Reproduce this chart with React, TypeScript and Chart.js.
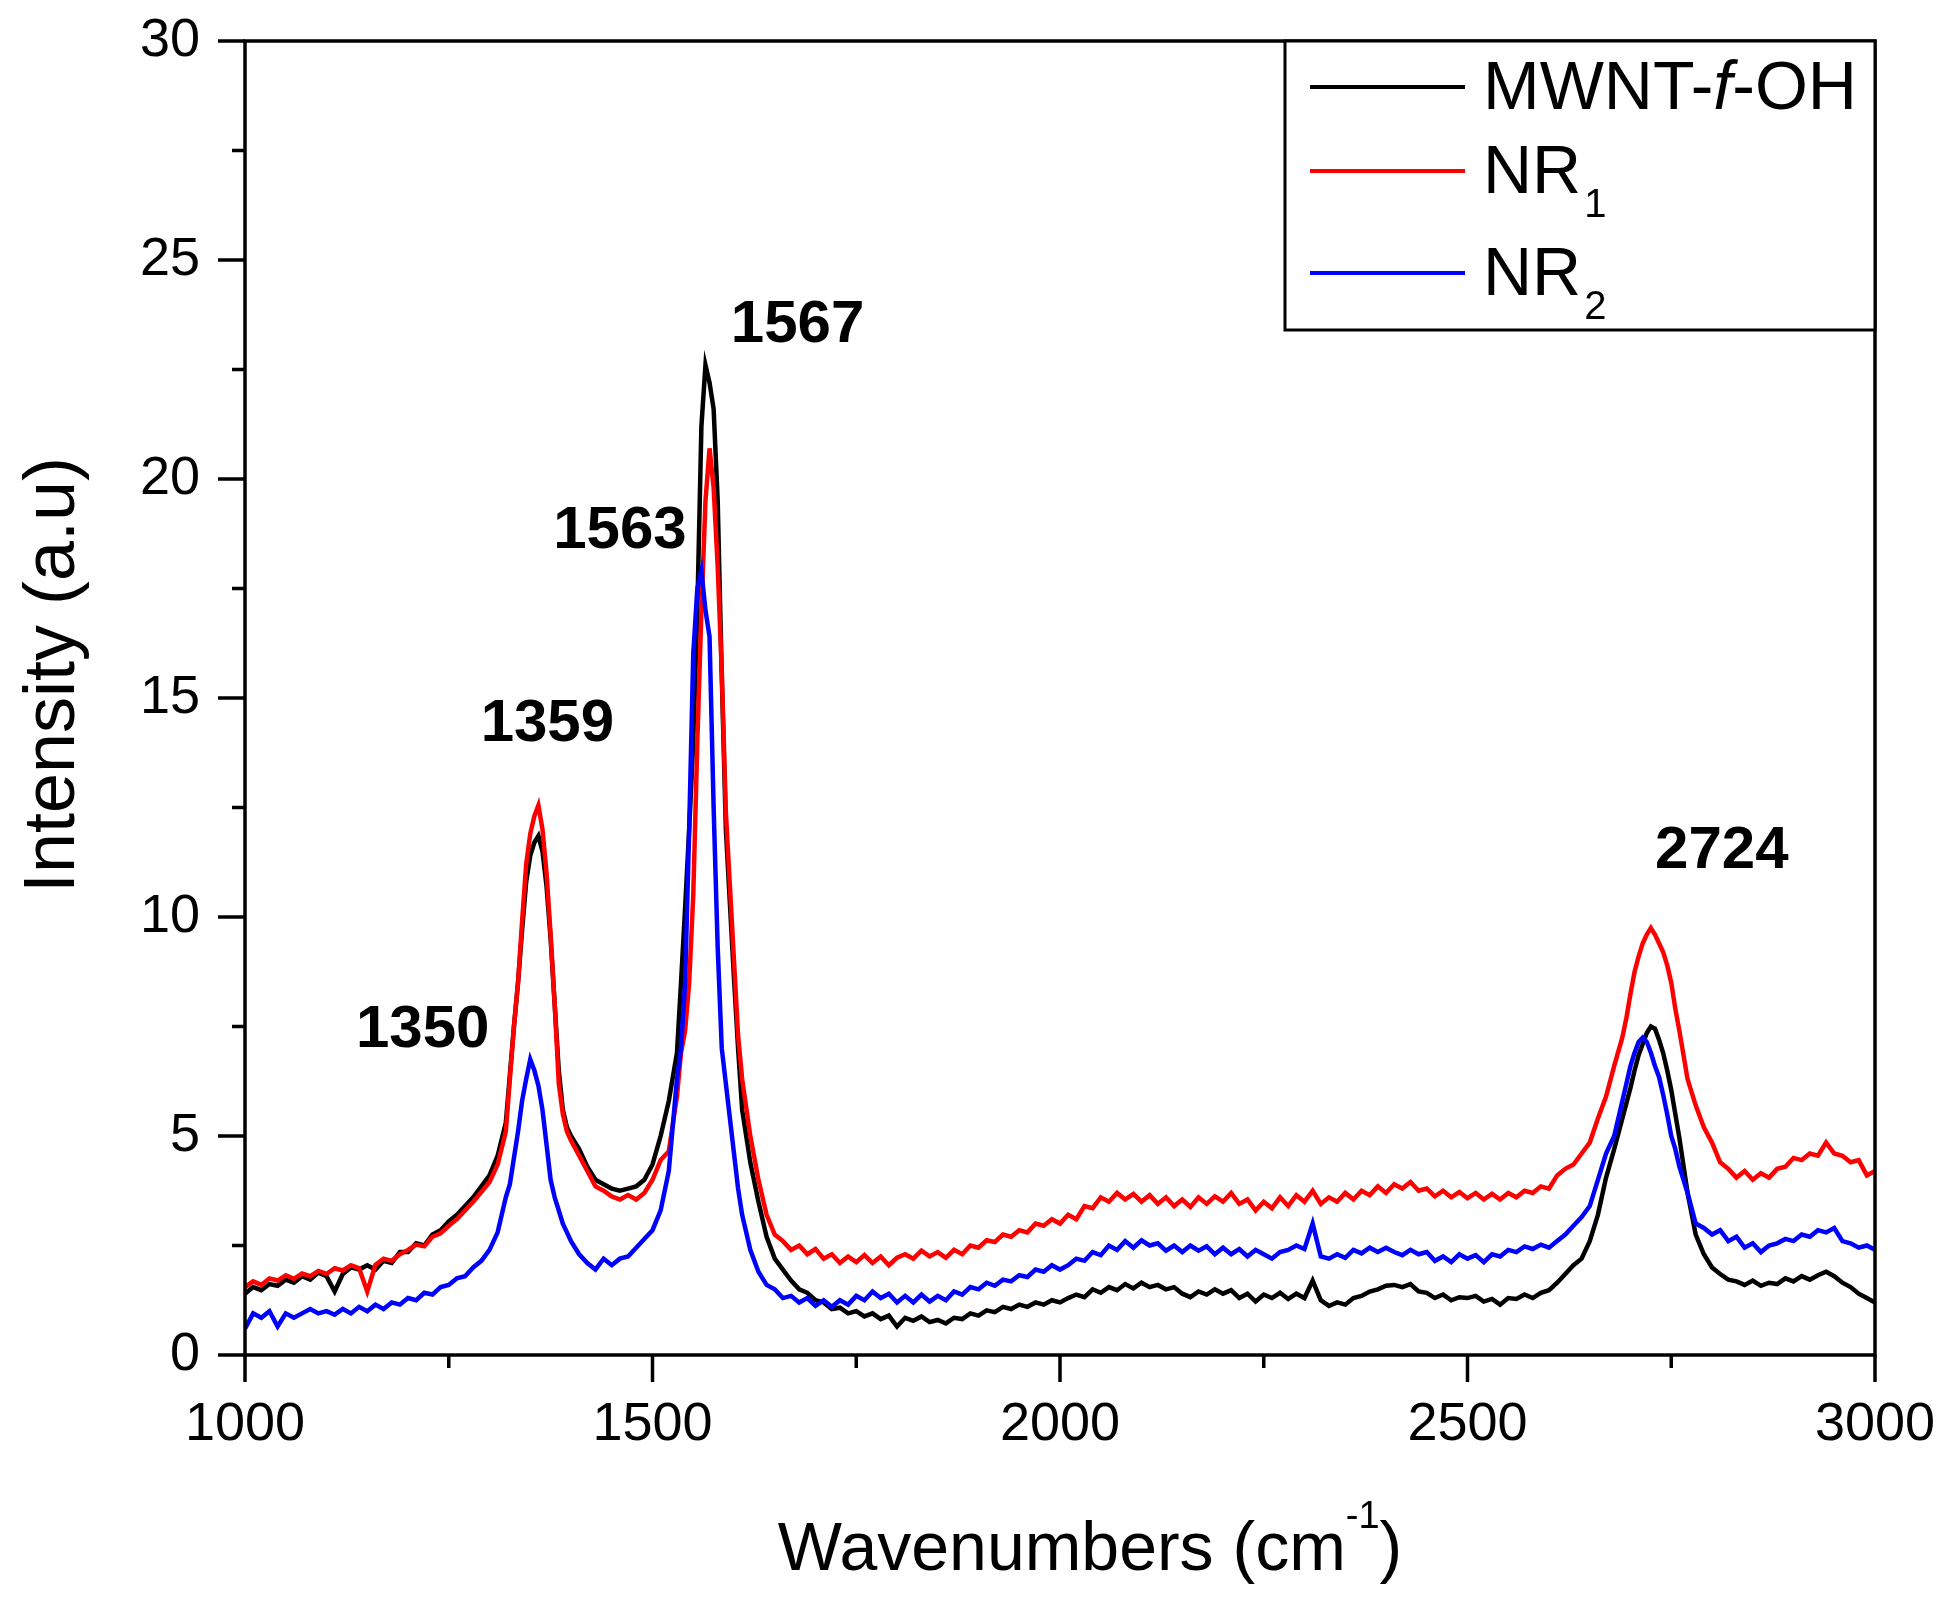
import { useEffect, useRef } from 'react';
import { Chart, registerables } from 'chart.js';

Chart.register(...registerables);

const FONT = '"Liberation Sans", Arial, sans-serif';

// Raman shift grid (cm-1), finer around the peaks
const wavenumbers = [
  1000, 1010, 1020, 1030, 1040, 1050, 1060, 1070, 1080, 1090, 1100, 1110, 1120, 1130, 1140, 1150, 1160,
  1170, 1180, 1190, 1200, 1210, 1220, 1230, 1240, 1250, 1260, 1270, 1280, 1290, 1300, 1310, 1320,
  1325, 1330, 1335, 1340, 1345, 1350, 1355, 1360, 1365, 1370, 1375, 1380, 1385, 1390, 1395, 1400,
  1410, 1420, 1430, 1440, 1450, 1460, 1470, 1480, 1490, 1500, 1510, 1520, 1530,
  1535, 1540, 1545, 1550, 1555, 1560, 1565, 1570, 1575, 1580, 1585, 1590, 1595, 1600, 1605, 1610,
  1620, 1630, 1640, 1650, 1660, 1670, 1680, 1690, 1700, 1710, 1720, 1730, 1740, 1750, 1760, 1770,
  1780, 1790, 1800, 1810, 1820, 1830, 1840, 1850, 1860, 1870, 1880, 1890, 1900, 1910, 1920, 1930,
  1940, 1950, 1960, 1970, 1980, 1990, 2000,
  2010, 2020, 2030, 2040, 2050, 2060, 2070, 2080, 2090, 2100, 2110, 2120, 2130, 2140, 2150, 2160,
  2170, 2180, 2190, 2200, 2210, 2220, 2230, 2240, 2250, 2260, 2270, 2280, 2290, 2300, 2310, 2320,
  2330, 2340, 2350, 2360, 2370, 2380, 2390, 2400,
  2410, 2420, 2430, 2440, 2450, 2460, 2470, 2480, 2490, 2500, 2510, 2520, 2530, 2540, 2550, 2560,
  2570, 2580, 2590, 2600, 2610, 2620, 2630, 2640, 2650, 2660, 2670, 2680, 2690,
  2695, 2700, 2705, 2710, 2715, 2720, 2725, 2730, 2735, 2740, 2745, 2750, 2755, 2760,
  2770, 2780, 2790, 2800, 2810, 2820, 2830, 2840, 2850, 2860, 2870, 2880, 2890, 2900, 2910, 2920,
  2930, 2940, 2950, 2960, 2970, 2980, 2990, 3000,
];

const mwntOH = [
  1.4, 1.55, 1.48, 1.62, 1.58, 1.72, 1.65, 1.8, 1.72, 1.88, 1.8, 1.45, 1.85, 2.0, 1.95, 2.05, 1.95,
  2.15, 2.1, 2.35, 2.35, 2.55, 2.5, 2.75, 2.85, 3.05, 3.2, 3.4, 3.6, 3.85, 4.1, 4.55, 5.3,
  6.4, 7.5, 8.5, 9.7, 10.8, 11.4, 11.7, 11.85, 11.5, 10.7, 9.5, 8.0, 6.5, 5.6, 5.2, 5.0,
  4.7, 4.3, 4.0, 3.9, 3.8, 3.75, 3.8, 3.85, 4.0, 4.35, 5.0, 5.8, 6.9,
  8.5, 10.2, 12.0, 14.0, 17.0, 21.2, 22.6, 22.2, 21.6, 19.5, 15.5, 12.0, 10.3, 8.6, 7.0, 5.6,
  4.4, 3.5, 2.7, 2.2, 1.95, 1.7, 1.5, 1.42, 1.25, 1.2, 1.05, 1.08, 0.95, 1.0, 0.88, 0.95,
  0.82, 0.9, 0.65, 0.85, 0.78, 0.88, 0.75, 0.8, 0.72, 0.85, 0.82, 0.95, 0.9, 1.02, 0.98, 1.1,
  1.05, 1.15, 1.1, 1.2, 1.15, 1.25, 1.2,
  1.3, 1.38, 1.32, 1.5, 1.42, 1.55, 1.48, 1.62, 1.52, 1.65, 1.55, 1.6, 1.5, 1.55, 1.4, 1.32,
  1.45, 1.38, 1.5, 1.4, 1.48, 1.3, 1.4, 1.22, 1.38, 1.3, 1.42, 1.28, 1.4, 1.3, 1.7, 1.25,
  1.12, 1.2, 1.15, 1.3, 1.35, 1.45, 1.5, 1.58,
  1.6, 1.55, 1.62, 1.45, 1.42, 1.3, 1.38, 1.25, 1.32, 1.3, 1.35, 1.22, 1.28, 1.15, 1.3, 1.28,
  1.38, 1.3, 1.42, 1.48, 1.65, 1.85, 2.05, 2.2, 2.6, 3.2, 4.05, 4.7, 5.4,
  5.75, 6.1, 6.5, 6.85, 7.1, 7.35, 7.5, 7.45, 7.2, 6.9, 6.5, 6.05, 5.5, 4.95,
  3.7, 2.75, 2.3, 2.0, 1.85, 1.72, 1.68, 1.6, 1.7, 1.58, 1.65, 1.62, 1.75, 1.68, 1.8, 1.72,
  1.82, 1.9, 1.8, 1.65, 1.55, 1.4, 1.3, 1.2,
];

const nr1 = [
  1.55, 1.68, 1.6, 1.75, 1.7, 1.82, 1.74, 1.86, 1.8, 1.92, 1.85, 1.98, 1.93, 2.05, 1.98, 1.45, 2.06,
  2.2, 2.15, 2.3, 2.4, 2.52, 2.48, 2.7, 2.78, 2.95, 3.1, 3.3, 3.5, 3.72, 3.95, 4.35, 5.1,
  6.3, 7.5, 8.5, 9.9, 11.2, 11.9, 12.3, 12.55, 12.0, 11.0, 9.6, 8.0, 6.2, 5.5, 5.1, 4.9,
  4.55, 4.2, 3.85, 3.75, 3.62, 3.55, 3.65, 3.55, 3.7, 4.0, 4.45, 4.65, 5.9,
  6.9, 7.4, 8.5, 10.5, 14.0, 17.0, 19.5, 20.7, 19.8, 18.0, 15.6, 12.4, 10.7, 9.0, 7.3, 6.3,
  5.0, 4.0, 3.2, 2.75, 2.6, 2.4, 2.5, 2.3, 2.42, 2.2, 2.3, 2.1, 2.25, 2.12, 2.28, 2.1,
  2.25, 2.05, 2.22, 2.3, 2.2, 2.38, 2.25, 2.35, 2.22, 2.4, 2.3, 2.5, 2.45, 2.62, 2.58, 2.75,
  2.7, 2.85, 2.8, 3.0, 2.95, 3.1, 3.0,
  3.2, 3.1, 3.4, 3.35, 3.6, 3.5, 3.7, 3.55, 3.68, 3.5, 3.65, 3.45, 3.6, 3.4, 3.55, 3.38,
  3.6, 3.45, 3.62, 3.5, 3.7, 3.45, 3.55, 3.3, 3.5, 3.35, 3.6, 3.4, 3.65, 3.5, 3.75, 3.45,
  3.6, 3.5, 3.7, 3.55, 3.75, 3.65, 3.85, 3.7,
  3.9, 3.8, 3.95, 3.75, 3.8, 3.62, 3.75, 3.6, 3.72, 3.58, 3.7, 3.55, 3.68, 3.55, 3.7, 3.6,
  3.75, 3.7, 3.85, 3.8, 4.1, 4.25, 4.35, 4.6, 4.85, 5.4, 5.9, 6.6, 7.25,
  7.7, 8.25, 8.75, 9.1, 9.4, 9.6, 9.75, 9.6, 9.4, 9.2, 8.9, 8.5, 7.9, 7.4,
  6.3, 5.7, 5.2, 4.85, 4.4, 4.25, 4.05, 4.2, 4.0, 4.15, 4.05, 4.25, 4.3, 4.5, 4.45, 4.6,
  4.55, 4.85, 4.6, 4.55, 4.4, 4.45, 4.1, 4.2,
];

const nr2 = [
  0.6, 0.95, 0.85, 1.0, 0.65, 0.95, 0.85, 0.95, 1.05, 0.95, 1.0, 0.92, 1.05, 0.95, 1.1, 1.0, 1.15,
  1.05, 1.2, 1.15, 1.3, 1.25, 1.42, 1.38, 1.55, 1.6, 1.75, 1.8, 2.0, 2.15, 2.4, 2.8, 3.6,
  3.9, 4.5, 5.1, 5.8, 6.3, 6.75, 6.5, 6.15, 5.6, 4.8, 4.0, 3.6, 3.3, 3.0, 2.8, 2.6,
  2.3, 2.1, 1.95, 2.2, 2.05, 2.2, 2.25, 2.45, 2.65, 2.85, 3.3, 4.2, 6.3,
  7.0, 8.5, 12.0, 16.0, 17.5, 17.9, 17.0, 16.4, 12.5, 9.3, 7.0, 6.2, 5.4, 4.6, 3.8, 3.2,
  2.4, 1.9, 1.6, 1.5, 1.3, 1.35, 1.2, 1.3, 1.12, 1.25, 1.1, 1.25, 1.15, 1.35, 1.25, 1.45,
  1.3, 1.4, 1.2, 1.35, 1.2, 1.38, 1.22, 1.35, 1.25, 1.45, 1.38, 1.55, 1.5, 1.65, 1.58, 1.72,
  1.68, 1.82, 1.78, 1.95, 1.9, 2.05, 1.95,
  2.05, 2.2, 2.15, 2.35, 2.28, 2.5, 2.4, 2.6, 2.45, 2.62, 2.5, 2.55, 2.38, 2.5, 2.35, 2.5,
  2.38, 2.48, 2.3, 2.45, 2.3, 2.42, 2.25, 2.4, 2.3, 2.2, 2.35, 2.4, 2.5, 2.42, 3.0, 2.25,
  2.2, 2.3, 2.22, 2.4, 2.32, 2.45, 2.35, 2.45,
  2.35, 2.28, 2.4, 2.3, 2.35, 2.15, 2.25, 2.12, 2.3, 2.2, 2.28, 2.12, 2.3, 2.25, 2.4, 2.35,
  2.48, 2.42, 2.52, 2.45, 2.6, 2.75, 2.95, 3.15, 3.4, 4.0, 4.6, 5.0, 5.8,
  6.2, 6.6, 6.9, 7.15, 7.25, 7.15, 6.9, 6.6, 6.35, 5.95, 5.5, 5.0, 4.7, 4.3,
  3.7, 3.0, 2.9, 2.75, 2.85, 2.6, 2.7, 2.45, 2.55, 2.35, 2.5, 2.55, 2.65, 2.6, 2.75, 2.7,
  2.85, 2.8, 2.9, 2.6, 2.55, 2.45, 2.5, 2.4,
];

const seriesColors = ['#000000', '#ff0000', '#0000ff'];

const xTicks = [1000, 1500, 2000, 2500, 3000];
const xMinorTicks = [1250, 1750, 2250, 2750];
const yTicks = [0, 5, 10, 15, 20, 25, 30];
const yMinorTicks = [2.5, 7.5, 12.5, 17.5, 22.5, 27.5];

// peak labels, placed in data units
const peakLabels = ['1350', '1359', '1563', '1567', '2724'];
const peakLabelX = [1218, 1371, 1460, 1678, 2812];
const peakLabelY = [7.4, 14.4, 18.8, 23.5, 11.5];

const toPoints = (ys: number[]) => wavenumbers.map((x, i) => ({ x, y: ys[i] }));

const decorPlugin = {
  id: 'decor',
  afterDraw(chart: Chart) {
    const { ctx, chartArea: a } = chart;
    const xs = chart.scales.x;
    const ys = chart.scales.y;
    ctx.save();

    // frame + outward ticks
    ctx.strokeStyle = '#000';
    ctx.lineWidth = 3.5;
    ctx.strokeRect(a.left, a.top, a.right - a.left, a.bottom - a.top);
    ctx.beginPath();
    xTicks.forEach((v) => { const p = xs.getPixelForValue(v); ctx.moveTo(p, a.bottom); ctx.lineTo(p, a.bottom + 27); });
    xMinorTicks.forEach((v) => { const p = xs.getPixelForValue(v); ctx.moveTo(p, a.bottom); ctx.lineTo(p, a.bottom + 13); });
    yTicks.forEach((v) => { const p = ys.getPixelForValue(v); ctx.moveTo(a.left, p); ctx.lineTo(a.left - 27, p); });
    yMinorTicks.forEach((v) => { const p = ys.getPixelForValue(v); ctx.moveTo(a.left, p); ctx.lineTo(a.left - 13, p); });
    ctx.stroke();

    // legend box
    const bw = 590, bh = 289;
    const bx = a.right - bw, by = a.top;
    ctx.fillStyle = '#fff';
    ctx.fillRect(bx, by, bw, bh);
    ctx.lineWidth = 3;
    ctx.strokeRect(bx, by, bw, bh);
    const rows = [46, 130, 232];
    rows.forEach((dy, i) => {
      const ly = by + dy;
      ctx.strokeStyle = seriesColors[i];
      ctx.lineWidth = 4;
      ctx.beginPath();
      ctx.moveTo(bx + 25, ly);
      ctx.lineTo(bx + 180, ly);
      ctx.stroke();
      ctx.fillStyle = '#000';
      ctx.textAlign = 'left';
      ctx.textBaseline = 'alphabetic';
      let tx = bx + 198;
      const base = ly + 22;
      if (i === 0) {
        ctx.font = `68px ${FONT}`;
        ctx.fillText('MWNT-', tx, base);
        tx += ctx.measureText('MWNT-').width;
        ctx.font = `italic 68px ${FONT}`;
        ctx.fillText('f', tx, base);
        tx += ctx.measureText('f').width;
        ctx.font = `68px ${FONT}`;
        ctx.fillText('-OH', tx, base);
      } else {
        ctx.font = `68px ${FONT}`;
        ctx.fillText('NR', tx, base);
        tx += ctx.measureText('NR').width + 3;
        ctx.font = `40px ${FONT}`;
        ctx.fillText(String(i), tx, ly + 46);
      }
    });

    // peak labels
    ctx.fillStyle = '#000';
    ctx.font = `bold 60px ${FONT}`;
    ctx.textAlign = 'center';
    ctx.textBaseline = 'middle';
    peakLabels.forEach((t, i) => {
      ctx.fillText(t, xs.getPixelForValue(peakLabelX[i]), ys.getPixelForValue(peakLabelY[i]));
    });

    // x axis title with superscript
    ctx.textAlign = 'left';
    ctx.textBaseline = 'alphabetic';
    ctx.font = `68px ${FONT}`;
    const t1 = 'Wavenumbers (cm';
    const w1 = ctx.measureText(t1).width;
    const w3 = ctx.measureText(')').width;
    ctx.font = `38px ${FONT}`;
    const w2 = ctx.measureText('-1').width;
    const cx = (a.left + a.right) / 2 + 30;
    const baseY = 1570;
    let x0 = cx - (w1 + w2 + w3) / 2;
    ctx.font = `68px ${FONT}`;
    ctx.fillText(t1, x0, baseY);
    x0 += w1;
    ctx.font = `38px ${FONT}`;
    ctx.fillText('-1', x0, baseY - 42);
    x0 += w2;
    ctx.font = `68px ${FONT}`;
    ctx.fillText(')', x0, baseY);

    // y axis title
    ctx.translate(74, 675);
    ctx.rotate(-Math.PI / 2);
    ctx.textAlign = 'center';
    ctx.font = `72px ${FONT}`;
    ctx.fillText('Intensity (a.u)', 0, 0);
    ctx.restore();
  },
};

export default function App() {
  const canvasRef = useRef<HTMLCanvasElement>(null);

  useEffect(() => {
    if (!canvasRef.current) return;
    const chart = new Chart(canvasRef.current, {
      type: 'line',
      data: {
        datasets: [
          { label: 'NR2', data: toPoints(nr2), borderColor: seriesColors[2], order: 0 },
          { label: 'NR1', data: toPoints(nr1), borderColor: seriesColors[1], order: 1 },
          { label: 'MWNT-f-OH', data: toPoints(mwntOH), borderColor: seriesColors[0], order: 2 },
        ].map((d) => ({ ...d, borderWidth: 4.5, pointRadius: 0, tension: 0, fill: false })),
      },
      options: {
        animation: false,
        responsive: false,
        layout: { padding: { top: 41, right: 78, left: 0, bottom: 0 } },
        plugins: { legend: { display: false }, tooltip: { enabled: false } },
        scales: {
          x: {
            type: 'linear',
            min: 1000,
            max: 3000,
            afterBuildTicks: (s) => { s.ticks = xTicks.map((value) => ({ value })); },
            afterFit: (s) => {
              s.height = 246;
              s.paddingLeft = 0; s.paddingRight = 0; s.paddingTop = 0; s.paddingBottom = 0;
            },
            grid: { display: false, drawTicks: false },
            border: { display: false },
            ticks: {
              color: '#000', font: { family: FONT, size: 54 }, padding: 38, maxRotation: 0, autoSkip: false,
              callback: (v) => String(v),
            },
          },
          y: {
            type: 'linear',
            min: 0,
            max: 30,
            afterBuildTicks: (s) => { s.ticks = yTicks.map((value) => ({ value })); },
            afterFit: (s) => {
              s.width = 245;
              s.paddingLeft = 0; s.paddingRight = 0; s.paddingTop = 0; s.paddingBottom = 0;
            },
            grid: { display: false, drawTicks: false },
            border: { display: false },
            ticks: {
              color: '#000', font: { family: FONT, size: 54 }, padding: 45, autoSkip: false,
              callback: (v) => String(v),
            },
          },
        },
      },
      plugins: [decorPlugin],
    });
    return () => { chart.destroy(); };
  }, []);

  return (
    <div style={{ position: 'absolute', left: 0, top: 0, width: 1953, height: 1601, background: '#fff' }}>
      <canvas ref={canvasRef} width={1953} height={1601} />
    </div>
  );
}
